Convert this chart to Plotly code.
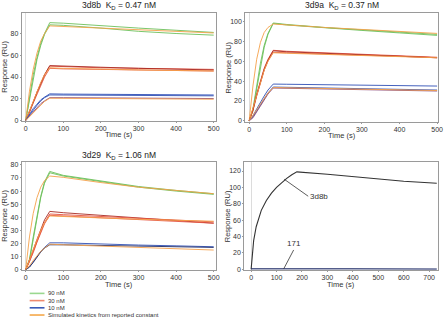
import plotly.graph_objects as go

# ---------------- data ----------------
t_abc = [0, 10, 20, 30, 40, 50, 64, 100, 200, 300, 400, 500]

# Panel 1: 3d8b
a_90_1 = [0, 22, 42, 58, 71, 80, 90, 89.5, 87, 85, 83, 81]
a_90_2 = [0, 20, 40, 56, 69, 79, 88, 87.5, 85, 82, 80, 78.5]
a_90_sim = [0, 27, 47, 62, 73, 80, 87, 86.5, 85, 83.5, 82, 80.5]
a_30_1 = [0, 8, 17, 26, 34, 42, 50, 49.5, 48.5, 48, 47.5, 47]
a_30_2 = [0, 7, 16, 24, 32, 40, 48, 47.5, 47, 46.5, 46, 45.5]
a_30_3 = [0, 8, 17, 26, 34, 42, 50.5, 50, 49, 48, 47.5, 46.5]
a_30_sim = [0, 9, 18, 27, 35, 42, 48.5, 48, 47, 46.5, 46, 45.5]
a_10_1 = [0, 6, 11, 15, 19, 21.5, 24.5, 24.3, 24, 23.8, 23.6, 23.5]
a_10_2 = [0, 5, 10, 14, 18, 21, 23.5, 23.4, 23.2, 23, 22.8, 22.7]
a_10_3 = [0, 4, 8, 12, 15.5, 18, 21, 21, 20.8, 20.6, 20.4, 20.2]
a_10_sim = [0, 3.5, 7.5, 11, 14.5, 17.5, 20.5, 20.4, 20.2, 20, 19.8, 19.6]

# Panel 2: 3d9a
b_90_1 = [0, 12, 35, 58, 76, 88, 98.5, 97, 94, 91.5, 89, 87]
b_90_2 = [0, 10, 32, 55, 74, 87, 98, 96.5, 93.5, 91, 88.5, 86]
b_90_sim = [0, 35, 62, 79, 89, 94, 97.5, 96.5, 94, 92, 90, 88]
b_30_1 = [0, 12, 27, 41, 53, 62, 71, 70, 68.5, 67, 65.5, 64]
b_30_2 = [0, 10, 25, 39, 51, 60, 69, 68.5, 67, 66, 65, 63.5]
b_30_3 = [0, 11, 26, 40, 52, 61, 70.5, 69.5, 68, 66.5, 65, 63.5]
b_30_sim = [0, 13, 27, 40, 51, 60, 68.5, 68, 67, 66, 64.5, 63.5]
b_10_1 = [0, 5, 12, 19, 25, 31, 37, 36.8, 36.3, 35.8, 35.3, 35]
b_10_2 = [0, 4, 10, 16, 22, 28, 34, 33.8, 33.2, 32.5, 31.8, 31]
b_10_3 = [0, 3, 9, 15, 21, 27, 33, 32.8, 32.2, 31.5, 30.8, 30]
b_10_sim = [0, 5, 11, 17, 23, 28, 33.5, 33.3, 32.7, 32, 31.3, 30.5]

# Panel 3: 3d29
c_90_1 = [0, 8, 25, 42, 56, 67, 75, 72, 67.5, 63.5, 60.5, 58]
c_90_2 = [0, 7, 23, 40, 55, 66, 74, 71.5, 67, 63, 60, 57.5]
c_90_sim = [0, 25, 43, 55, 63, 68, 71.5, 70.5, 66.5, 63, 60.5, 58]
c_30_1 = [0, 7, 15, 23, 31, 38, 44.5, 43.5, 41.5, 39.5, 37.5, 35.5]
c_30_2 = [0, 6, 14, 22, 29, 36, 42.5, 42, 40.5, 39, 37.5, 36.5]
c_30_3 = [0, 6, 13, 21, 28, 35, 41.5, 41, 40, 38.5, 37, 35.5]
c_30_sim = [0, 8, 16, 23, 30, 36, 41, 40.5, 39.5, 38.5, 37.5, 37]
c_10_1 = [0, 2, 6, 10, 14, 17, 20.5, 20.5, 19.5, 18.8, 18.2, 17.5]
c_10_2 = [0, 2, 5.5, 9.5, 13.5, 16.5, 19, 19, 18.5, 18, 17.5, 17]
c_10_sim = [0, 3, 7, 10.5, 14, 16.5, 19.5, 19, 18, 17, 16, 15]

# Panel 4: 3d8b vs 171
d_t = [0, 5, 10, 20, 30, 40, 60, 80, 100, 120, 140, 160, 180, 300, 400, 500, 600, 730]
d_3d8b = [0, 22, 35, 52, 63, 72, 84, 93, 100, 106, 111, 115.5, 119, 116, 113, 110, 107.5, 105]
d_t171 = [0, 100, 200, 300, 400, 500, 600, 730]
d_171 = [0.5, 0.8, 0.6, 0.7, 0.5, 0.6, 0.5, 0.4]

titles = ["3d8b  K<sub>D</sub> = 0.47 nM", "3d9a  K<sub>D</sub> = 0.37 nM",
          "3d29  K<sub>D</sub> = 1.06 nM", ""]
legend_labels = ["90 nM", "30 nM", "10 nM", "Simulated kinetics from reported constant"]

# ---------------- styling ----------------
GREEN = "#6cc05a"
RED = "#e5533f"
DRED = "#a82a22"
BLUE = "#2f4fb5"
NAVY = "#1e2a66"
PURP = "#8a4a7a"
ORANGE = "#f5a04a"
FONT = "Liberation Sans, Arial, sans-serif"

W, H = 448, 328
fig = go.Figure()

def add(xa, ya, x, y, color, width=0.9):
    fig.add_trace(go.Scatter(x=x, y=y, mode="lines", xaxis=xa, yaxis=ya,
                             line=dict(color=color, width=width),
                             showlegend=False, hoverinfo="skip"))

# panel 1
for ys, c in [(a_90_1, GREEN), (a_90_2, GREEN), (a_90_sim, ORANGE),
              (a_30_1, RED), (a_30_2, RED), (a_30_3, DRED), (a_30_sim, ORANGE),
              (a_10_1, BLUE), (a_10_2, BLUE), (a_10_3, PURP), (a_10_sim, ORANGE)]:
    add("x", "y", t_abc, ys, c)
# panel 2
for ys, c in [(b_90_1, GREEN), (b_90_2, GREEN), (b_90_sim, ORANGE),
              (b_30_1, RED), (b_30_2, RED), (b_30_3, DRED), (b_30_sim, ORANGE),
              (b_10_1, BLUE), (b_10_2, BLUE), (b_10_3, PURP), (b_10_sim, ORANGE)]:
    add("x2", "y2", t_abc, ys, c)
# panel 3
for ys, c in [(c_90_1, GREEN), (c_90_2, GREEN), (c_90_sim, ORANGE),
              (c_30_1, DRED), (c_30_2, RED), (c_30_3, RED), (c_30_sim, ORANGE),
              (c_10_1, BLUE), (c_10_2, NAVY), (c_10_sim, ORANGE)]:
    add("x3", "y3", t_abc, ys, c)
# panel 4
add("x4", "y4", d_t, d_3d8b, "#333333", 1.1)
add("x4", "y4", d_t171, d_171, NAVY, 1.3)

# panel geometry in pixels: (left, right, top, bottom), x range, y range, ticks
geo = [
    (22, 218, 12, 121, [-10.5, 505], [0, 99], list(range(0, 501, 100)), list(range(0, 81, 20))),
    (248, 443, 12, 122, [-10.5, 502.6], [-0.7, 108.7], list(range(0, 501, 100)), list(range(0, 101, 20))),
    (22, 218, 163, 272, [-10.5, 505], [0, 82.2], list(range(0, 501, 100)), list(range(0, 81, 10))),
    (247, 443, 163, 272, [-27, 735], [-0.4, 131], list(range(0, 701, 100)), list(range(0, 121, 20))),
]

layout = dict(width=W, height=H, margin=dict(l=0, r=0, t=0, b=0),
              paper_bgcolor="white", plot_bgcolor="white",
              font=dict(family=FONT, size=7, color="#333333"), showlegend=False)
annotations = []
shapes = []
for i, (l, r, t, b, xr, yr, xt, yt) in enumerate(geo):
    sfx = "" if i == 0 else str(i + 1)
    common = dict(showline=True, mirror=True, linecolor="#9a9a9a", linewidth=1,
                  showgrid=False, ticks="outside", ticklen=1, tickcolor="#9a9a9a",
                  ticklabelstandoff=0,
                  tickfont=dict(family=FONT, size=7, color="#333333"), fixedrange=True)
    layout["xaxis" + sfx] = dict(common, domain=[l / W, r / W], range=xr, tickvals=xt,
                                 anchor="y" + sfx, zeroline=True, zerolinecolor="#dcdcdc",
                                 zerolinewidth=1)
    layout["yaxis" + sfx] = dict(common, domain=[1 - b / H, 1 - t / H], range=yr, tickvals=yt,
                                 anchor="x" + sfx, zeroline=False)
    cx = (l + r) / 2
    if titles[i]:
        annotations.append(dict(text=titles[i], x=cx / W, y=1 - (t - 7) / H, xref="paper", yref="paper",
                                showarrow=False, font=dict(size=8.5, color="#222222"),
                                xanchor="center", yanchor="middle"))
    annotations.append(dict(text="Time (s)", x=cx / W, y=1 - (b + 14.5) / H, xref="paper", yref="paper",
                            showarrow=False, font=dict(size=7.5, color="#333333"),
                            xanchor="center", yanchor="middle"))
    annotations.append(dict(text="Response (RU)", x=(l - 17) / W, y=1 - (t + b) / 2 / H,
                            xref="paper", yref="paper", textangle=-90, showarrow=False,
                            font=dict(size=7.5, color="#333333"), xanchor="center", yanchor="middle"))

# panel 4 labels
annotations.append(dict(text="3d8b", x=130, y=110, xref="x4", yref="y4", showarrow=True,
                        arrowhead=0, arrowwidth=0.8, arrowcolor="#333333", ax=24, ay=17,
                        font=dict(size=8, color="#333333"), xanchor="left", yanchor="middle"))
annotations.append(dict(text="171", x=128, y=0.5, xref="x4", yref="y4", showarrow=True,
                        arrowhead=0, arrowwidth=0.8, arrowcolor="#333333", ax=10, ay=-19,
                        font=dict(size=8, color="#333333"), xanchor="center", yanchor="bottom"))

# legend (drawn manually)
leg_colors = ["#9ad88f", "#ee8a6f", "#3a5bb8", "#f5a84a"]
for k, (lab, col) in enumerate(zip(legend_labels, leg_colors)):
    y = 296 + k * 7.3
    shapes.append(dict(type="line", xref="paper", yref="paper", x0=30 / W, x1=45 / W,
                       y0=1 - y / H, y1=1 - y / H, line=dict(color=col, width=1.6)))
    annotations.append(dict(text=lab, x=47 / W, y=1 - y / H, xref="paper", yref="paper",
                            showarrow=False, xanchor="left", yanchor="middle",
                            font=dict(size=6, color="#333333")))

layout["annotations"] = annotations
layout["shapes"] = shapes
fig.update_layout(**layout)
fig.write_html("out.html")
